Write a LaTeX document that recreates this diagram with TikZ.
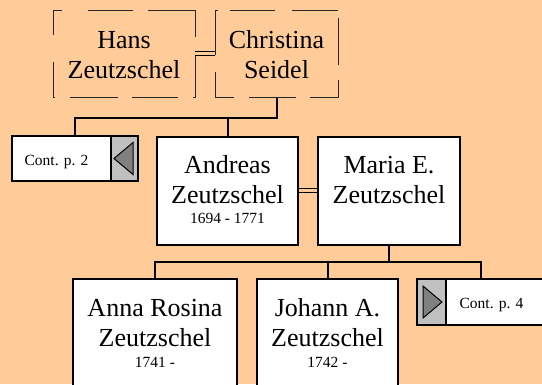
\documentclass[tikz,border=0pt]{standalone}
\usepackage{fontspec}
\setmainfont{Liberation Serif}
\definecolor{peach}{RGB}{255,204,153}
\definecolor{greypart}{RGB}{192,192,192}
\definecolor{trigrey}{RGB}{128,128,128}
\begin{document}
\begin{tikzpicture}[x=1pt,y=-1pt,
  dbox/.style={inner sep=0},
  dseg/.style={line width=1pt, draw=black!85},
  pbox/.style={draw, line width=2pt, fill=white, inner sep=0},
  cbox/.style={draw, line width=1.8pt, fill=white, inner sep=0},
  gbox/.style={draw, line width=1.8pt, fill=greypart, inner sep=0},
  tri/.style={draw, line width=1pt, fill=trigrey},
  conn/.style={draw, line width=2pt},
  dbl/.style={draw, line width=0.9pt, double=peach, double distance=2.6pt},
  nm/.style={anchor=base, inner sep=0, font=\fontsize{26}{30}\selectfont},
  dt/.style={anchor=base, inner sep=0, font=\fontsize{15.5}{18}\selectfont},
  ct/.style={anchor=base, inner sep=0, font=\fontsize{15.5}{18}\selectfont}]
\useasboundingbox (0,0) rectangle (542,384);
\clip (0,0) rectangle (542,384);
\fill[peach] (0,0) rectangle (542,384);

% dashed parent boxes (outline drawn as separate dashes)
\node[dbox, minimum width=142pt, minimum height=87.5pt] (hans) at (124,53.75) {};
\node[dbox, minimum width=123pt, minimum height=87.5pt] (christina) at (276.5,53.75) {};
\draw[dseg]
  (53,10) -- (62,10)  (88,10) -- (133,10)  (148,10) -- (195,10)
  (195,10) -- (195,37)  (195,52) -- (195,97.5)
  (53,97.5) -- (55,97.5)  (70,97.5) -- (118,97.5)  (132,97.5) -- (178,97.5)  (193,97.5) -- (195,97.5)
  (53,10) -- (53,35)  (53,62) -- (53,97.5);
\draw[dseg]
  (215,10) -- (218,10)  (230,10) -- (275,10)  (292,10) -- (338,10)
  (338,18) -- (338,65)  (338,80) -- (338,97.5)
  (215,97.5) -- (234,97.5)  (249,97.5) -- (296,97.5)  (310,97.5) -- (338,97.5)
  (215,10) -- (215,55)  (215,72) -- (215,97.5);

% solid boxes
\node[pbox, minimum width=141pt, minimum height=108pt] (andreas) at (227.5,191) {};
\node[pbox, minimum width=142pt, minimum height=108pt] (maria) at (389,191) {};
\node[pbox, minimum width=164pt, minimum height=108pt] (anna) at (155,333) {};
\node[pbox, minimum width=141pt, minimum height=108pt] (johann) at (327.5,333) {};
\node[cbox, minimum width=126pt, minimum height=45pt] (cont2) at (75,158.5) {};
\node[cbox, minimum width=128pt, minimum height=46pt] (cont4) at (481,302) {};
\node[gbox, minimum width=27pt, minimum height=45pt, anchor=east] (g2) at (cont2.east) {};
\node[gbox, minimum width=29pt, minimum height=46pt, anchor=west] (g4) at (cont4.west) {};
\draw[tri] (g2.center) ++(-10.5,0) -- ++(19,-16) -- ++(0,32) -- cycle;
\draw[tri] (g4.center) ++(10.5,0) -- ++(-19,-16) -- ++(0,32) -- cycle;

% connectors
\draw[dbl] ([yshift=0.25pt]hans.east) -- ([yshift=0.25pt]christina.west);
\draw[dbl] ([yshift=0.5pt]andreas.east) -- ([yshift=0.5pt]maria.west);
\draw[conn] (christina.south) -- ++(0,20) coordinate (j1) -| (cont2.north);
\draw[conn] (andreas.north) -- (andreas.north |- j1);
\draw[conn] (maria.south) -- ++(0,16) coordinate (j2);
\draw[conn] (anna.north) -- (anna.north |- j2) -- (cont4.north |- j2) -- (cont4.north);
\draw[conn] (johann.north) -- (johann.north |- j2);

% texts
\node[nm] (t1) at (124,48) {Hans};
\node[nm] (t2) at (124,78) {Zeutzschel};
\node[nm] (t3) at (276.5,48) {Christina};
\node[nm] (t4) at (276.5,78) {Seidel};
\node[nm] (t5) at (227.5,173) {Andreas};
\node[nm] (t6) at (227.5,203) {Zeutzschel};
\node[dt] (t7) at (227.5,223) {1694 - 1771};
\node[nm] (t8) at (389,173) {Maria E.};
\node[nm] (t9) at (389,203) {Zeutzschel};
\node[nm] (t10) at (155,316) {Anna Rosina};
\node[nm] (t11) at (155,346) {Zeutzschel};
\node[dt] (t12) at (155,367) {1741 -};
\node[nm] (t13) at (327.5,316) {Johann A.};
\node[nm] (t14) at (327.5,346) {Zeutzschel};
\node[dt] (t15) at (327.5,367) {1742 -};
\node[ct] (t16) at (56.5,165) {Cont. p. 2};
\node[ct] (t17) at (491.5,308) {Cont. p. 4};
\end{tikzpicture}
\end{document}
